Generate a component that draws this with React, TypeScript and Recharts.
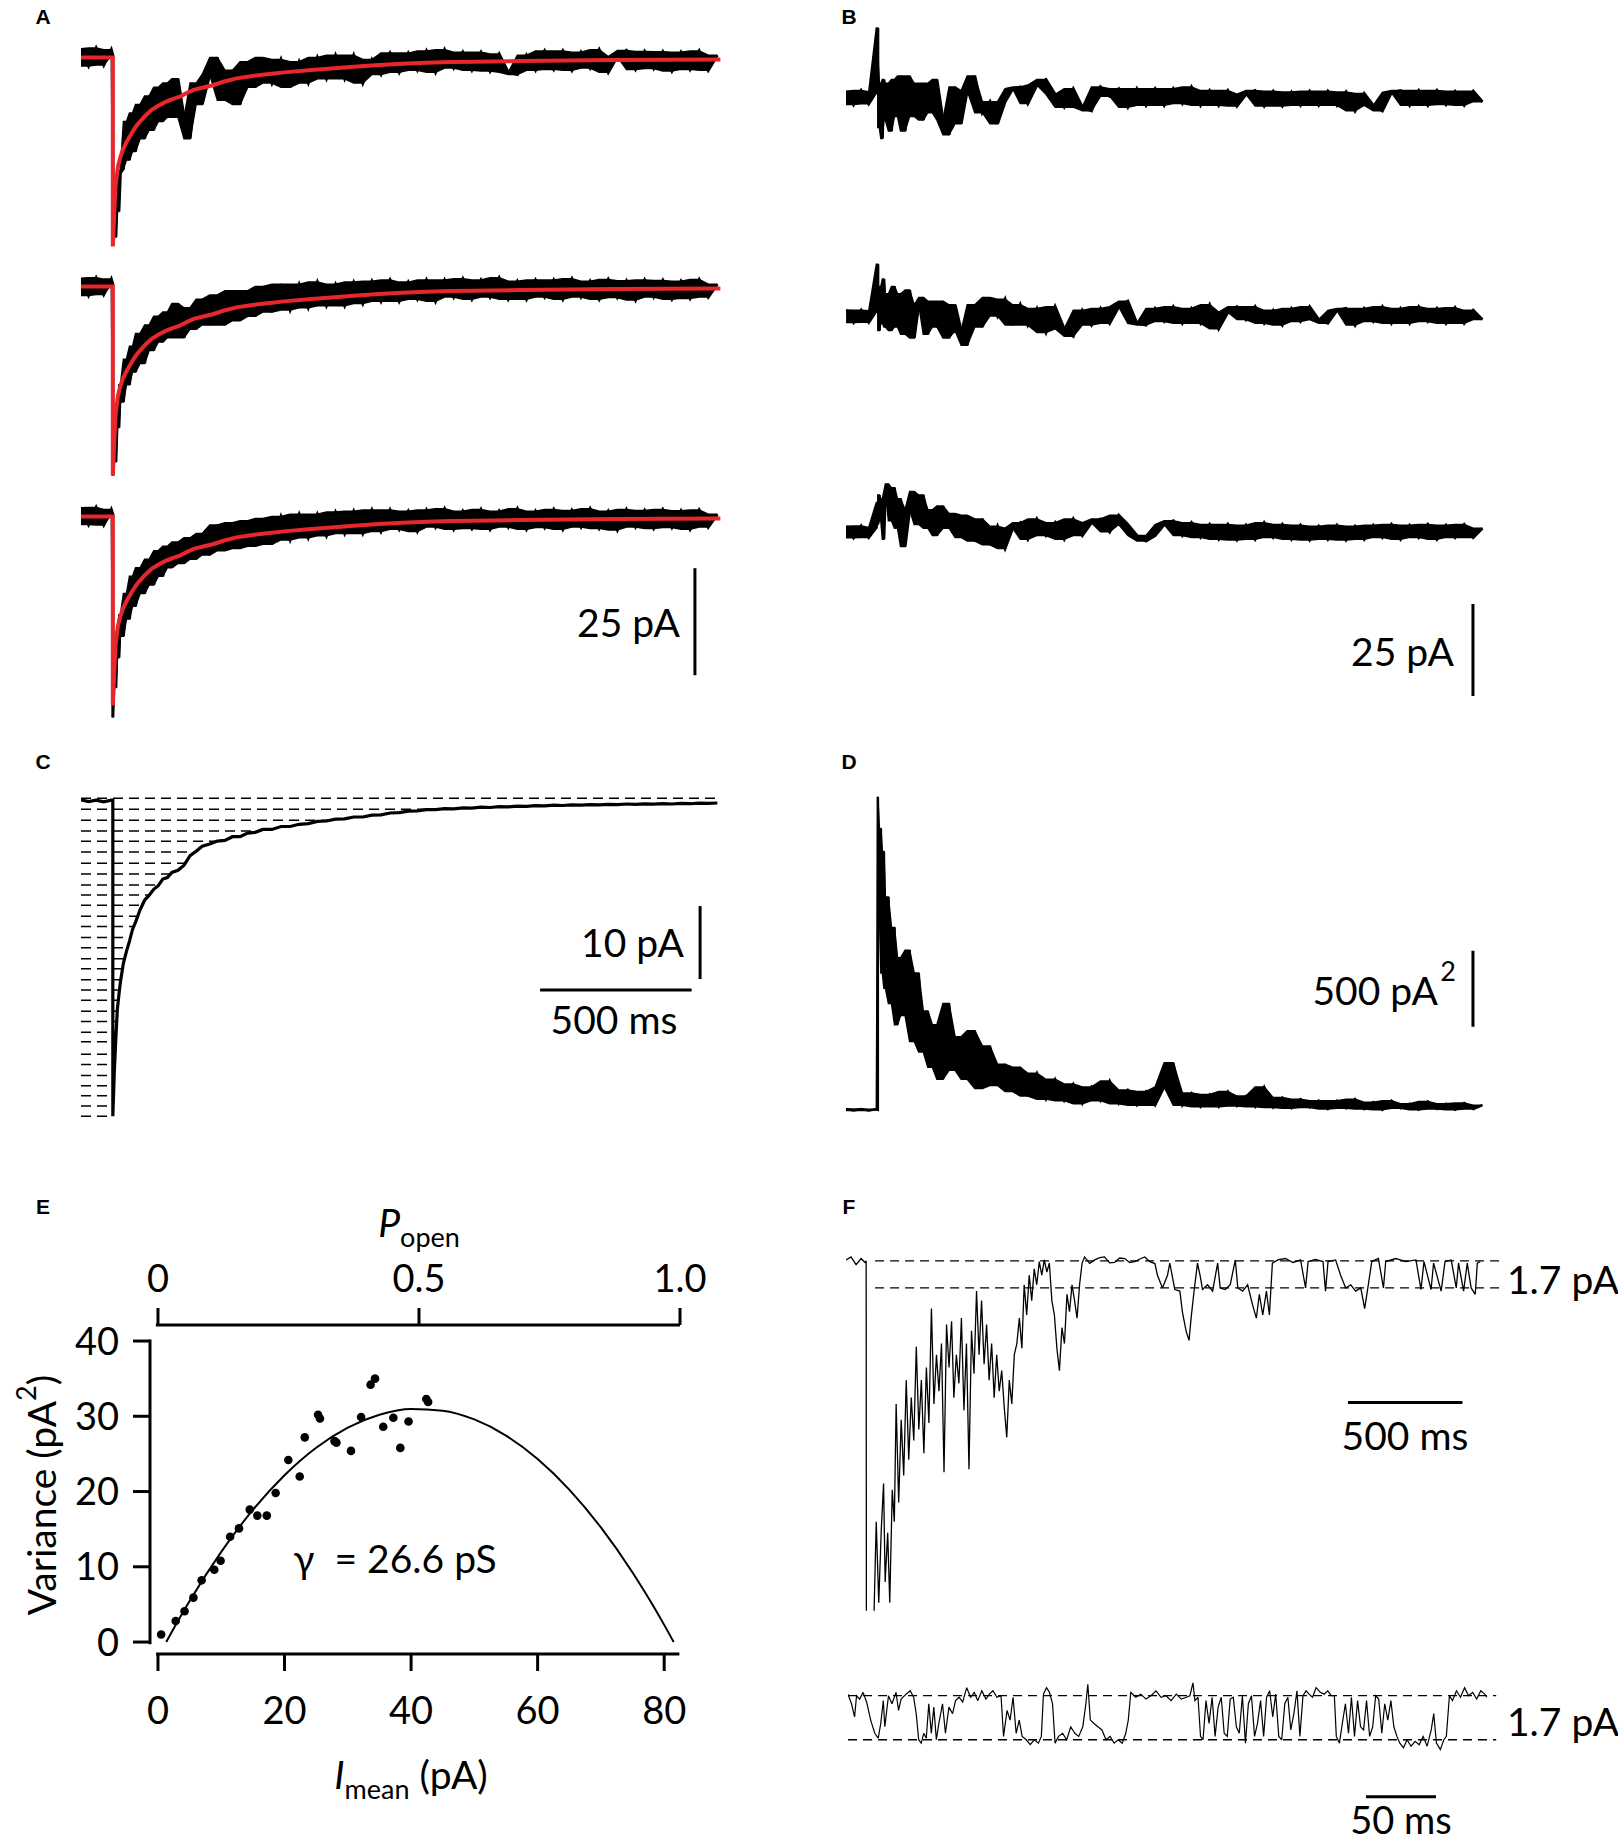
import React from "react";
import {
  ComposedChart,
  Line,
  Area,
  Scatter,
  XAxis,
  YAxis,
  ReferenceLine,
} from "recharts";

const FONT = "Lato, 'Open Sans', sans-serif";

// time base (ms) shared by the A–D sweeps; 105 appears twice for the step
const T = [
  0, 25, 50, 75, 100, 105, 105, 110, 115, 120,
  125, 130, 140, 150, 160, 170, 180, 195, 210, 225,
  240, 255, 270, 285, 300, 320, 340, 360, 380, 400,
  425, 450, 475, 500, 525, 550, 575, 600, 630, 660,
  690, 720, 750, 780, 810, 840, 870, 900, 930, 960,
  990, 1020, 1050, 1080, 1110, 1140, 1170, 1200, 1230, 1260,
  1290, 1320, 1350, 1380, 1410, 1440, 1470, 1500, 1530, 1560,
  1590, 1620, 1650, 1680, 1710, 1740, 1770, 1800, 1830, 1860,
  1890, 1920, 1950, 1980, 2010, 2040, 2070, 2100,
];

// A: three single sweeps (pA)
const A1 = [
  2, -2, 2.2, -1.8, 1.8, 0.5, -44, -38, -42, -31,
  -36, -27, -26, -15, -24, -13, -22, -11, -19, -9,
  -17, -7, -15, -6, -14, -5, -14, -19, -6, -11,
  -4, 0, -10, -3, -11, -1, -7, 0, -6, -0.5,
  -7, -1, -6, 0, -5, 0.5, -5, 0.5, -6, -0.5,
  -4, 1, -3.5, 1, -3, 1.5, -3.5, 1.8, -2.5, 1.2,
  -3, 1.2, -3.2, 0.8, -3.5, -4, 0.5, -3, 1.5, -2.8,
  1.5, -3, 1.2, -2.5, 1.8, -3.5, 0.2, 1.6, -2.8, 1.4,
  -2.6, 1.3, -3.2, 1.2, -2.8, 1.5, -3, 0.5,
];
const A2 = [
  1.9, -2.1, 2, -1.9, 1.7, 0.5, -44.2, -37, -41, -30,
  -33, -23, -27, -17, -23, -14, -20, -11, -18, -9,
  -15, -7, -13, -6, -12, -4, -12, -5, -10, -3,
  -9, -2, -9, -1, -8, -1, -7, 0, -6, 0.5,
  -5.5, 0.5, -5, 1, -4.5, 0.5, -4.5, 1, -4, 1.2,
  -3.5, 1.5, -3.5, 1, -3, 1.5, -3.5, 1.5, -2.5, 1.8,
  -3, 1.5, -2.5, 2, -3, 1.2, -3, 1.5, -2.5, 1.5,
  -3, 1.8, -2.5, 1.2, -3, 1.6, -2.6, 1.3, -3.2, 1.5,
  -2.5, 1.4, -3, 1.2, -2.8, 1.6, -2.5, 0.5,
];
const A3 = [
  2, -1.9, 2.1, -2, 1.6, 0.5, -47, -36, -40, -27,
  -33, -23, -28, -18, -24, -14, -21, -12, -18, -10,
  -16, -8, -14, -7, -12, -6, -11, -5, -10, -4,
  -9, -2, -8, -1.5, -7.5, -1, -7, -0.5, -6.5, 0,
  -5.5, 0.5, -5, 0.5, -4.5, 1, -4, 1.2, -4, 1.5,
  -3.5, 1.5, -3, 1.2, -3.5, 1.5, -2.5, 1.8, -3, 1.2,
  -2.8, 1.6, -3, 1.2, -2.5, 1.8, -3, 1.2, -2.6, 1.6,
  -3, 1.4, -2.5, 1.8, -2.8, 1.2, -3.2, 1.6, -2.5, 1.4,
  -2.8, 1.6, -2.6, 1.3, -3, 1.5, -2.5, 0.5,
];
// red fitted decay drawn over each sweep
const FIT_T = [
  0, 105, 105, 110, 114, 122, 130, 138, 150, 161,
  175, 185, 210, 232, 255, 279, 300, 326, 350, 372,
  400, 435, 470, 513, 550, 592, 630, 670, 750, 826,
  900, 983, 1060, 1139, 1220, 1296, 1450, 1609, 1760, 1922,
  2110,
];
const FIT_A = [
  0, 0, -44.2, -36, -30, -25.5, -23.3, -21.6, -19.8, -18.5,
  -16.8, -15.8, -13.8, -12.3, -11.3, -10.4, -9.8, -9.2, -8.3, -7.6,
  -7.1, -6.5, -5.7, -4.9, -4.5, -4.1, -3.8, -3.5, -3.0, -2.6,
  -2.2, -1.8, -1.5, -1.25, -1.1, -1.0, -0.85, -0.7, -0.62, -0.55,
  -0.47,
];

// B: sweep minus mean (pA)
const B1 = [
  1.8, -1.8, 2, -1.6, 1.7, 19, 10, -8, 4, -11,
  5, -6, 4, -9, 5, -5, 6, -9, 6, -5,
  4, -6, 4, -4, 5, -6, -10, 3, -7, 2,
  6, -4, -1, -7, -1, 2.5, 3, -1.5, 3.5, 5,
  1, -2.5, 2.5, -2.5, -3.5, 3, 0.5, 2.5, -2.5, 2.5,
  -2, 2.5, -2, 2.5, -1.5, 3, -2, 2, -2, 2,
  -2.2, 1, 2, -2.2, 1.8, -2.2, 1.6, -2, 1.8, -2,
  1.8, -2, 1.6, -3.5, 1.2, -2, -3.5, 1.5, 2, -2,
  2, -2, 2, -1.8, 1.8, -2, 1.8, -1,
];
const B2 = [
  1.6, -1.8, 1.5, -1.7, 1.4, 14, 5, -4, 8, -2,
  10, -3, 6, -4, 8, -3, 6, -5, 7, -6,
  3, 5, -5, 4, -3, 4, -6, 3, -4, -8,
  3, -3, 5, 0, 4.5, -2.5, 3, -2.5, 2, -4.5,
  2.5, -3.5, -5.5, 1.5, -2.5, 2, -2, 2.5, 4, -2,
  -2.5, 2, -1.5, 2.5, -2, 2, -2, 3, -3.5, 1,
  2.5, -1, 2.5, -2, 1.5, -2.5, 2, -1.5, 2.5, -1,
  -2, 1.5, 2, -2.5, 2, -1.5, 2.5, -2, 2, -2,
  2.5, -1.5, 2, -2, 2.2, -2, 1.5, -1,
];
const B3 = [
  1.5, -1.6, 1.6, -1.5, 1.2, 8, 2, 10, 3, 9,
  -2, 11, 13, 3, 12, 1, 9, -4, 6, 11,
  2, 10, 1, 6, -1, 7, 1, 5, -1.5, 4.5,
  -2.5, 3.5, -3.5, 1.5, -4.5, 1, 2.5, -2, 3.5, -1,
  2.5, -2, 3.5, -1, 2.5, 3.5, 0, 4.5, 2, -1,
  -2.5, -1, 2, 3, -1, 2.5, -1.5, 2, -2, 2,
  -2.2, 1.8, -2, 2.5, -1.5, 2, -2, 1.8, -2.2, 1.5,
  -2, 1.8, -2.2, 1.5, -2, 1.8, -1.5, 2, -2, 1.8,
  -1.5, 2, -2, 1.8, -1.5, 2, -1.5, 1,
];

// C: mean current (pA) and the amplitude bins
const C_MEAN = [
  0.15, -0.1, 0.12, -0.12, 0.1, 0.1, -43.2, -37, -32.5, -28.5,
  -26.6, -24.8, -22.2, -20.6, -19.2, -17.6, -16.6, -14.9, -13.6, -12.9,
  -12.1, -11.6, -10.7, -10.5, -9.8, -9.5, -8.8, -7.5, -6.9, -6.2,
  -5.9, -5.5, -5.4, -4.9, -4.9, -4.4, -4.3, -3.9, -3.9, -3.5,
  -3.5, -3.2, -3.1, -2.8, -2.75, -2.5, -2.45, -2.2, -2.2, -1.95,
  -1.9, -1.65, -1.6, -1.4, -1.35, -1.2, -1.2, -1.05, -1.08, -0.95,
  -0.98, -0.85, -0.9, -0.78, -0.8, -0.7, -0.74, -0.64, -0.68, -0.58,
  -0.62, -0.54, -0.58, -0.5, -0.54, -0.46, -0.5, -0.42, -0.47, -0.4,
  -0.44, -0.37, -0.42, -0.34, -0.38, -0.3, -0.34, -0.28,
];
const BIN_LEVELS = [
  0.37, -1.15, -2.63, -4.1, -5.53, -7.0, -8.53, -10.0, -11.5, -12.9,
  -14.3, -15.8, -17.2, -18.7, -20.1, -21.6, -23.0, -24.5, -25.9, -27.3,
  -28.8, -30.2, -31.7, -33.0, -34.7, -36.1, -37.6, -39.0, -40.4, -41.8,
  -43.2,
];
const BIN_ENDS = [
  2110, 1180, 820, 588, 446, 377, 346, 296, 257, 225,
  202, 187, 174, 163, 154, 144, 137, 131, 127, 123,
  119.6, 117.8, 116, 114.4, 112.6, 111, 109.5, 108.4, 107.3, 106.1,
  105,
];

// D: ensemble variance (pA^2)
const D_VAR = [
  5, -5, 5, -5, 3, 0, 2060, 1300, 1850, 900,
  1700, 800, 1400, 700, 1200, 560, 1000, 620, 1050, 450,
  900, 380, 650, 280, 560, 200, 700, 260, 480, 200,
  520, 140, 420, 160, 300, 120, 280, 90, 240, 70,
  200, 60, 170, 40, 150, 60, 190, 40, 130, 30,
  120, 30, 150, 310, 30, 110, 20, 100, 20, 120,
  25, 90, 20, 150, 15, 80, 10, 70, 15, 60,
  5, 60, 10, 70, 5, 50, 0, 60, 10, 40,
  0, 55, 5, 40, 0, 45, 5, 30,
];

// E: variance vs mean current
const E_IMEAN = [
  0.5, 2.8, 4.2, 5.6, 6.9, 8.9, 9.9, 11.4, 12.8, 14.5,
  15.7, 17.2, 18.6, 20.6, 22.4, 23.2, 25.3, 25.6, 27.9, 28.2,
  30.5, 32.1, 33.6, 34.3, 35.6, 37.2, 38.3, 39.6, 42.4, 42.7,
];
const E_VAR = [
  1.0, 2.8, 4.1, 5.9, 8.2, 9.6, 10.8, 14.0, 15.1, 17.6,
  16.8, 16.8, 19.8, 24.2, 22.0, 27.2, 30.2, 29.7, 26.7, 26.5,
  25.4, 29.9, 34.2, 35.0, 28.6, 29.8, 25.8, 29.3, 32.3, 31.9,
];
const E_FIT_I = [1.3, 3, 5, 10, 15, 20, 25, 30, 35, 40, 45, 50, 55, 60, 65, 70, 75, 78, 80, 81.5];
const E_FIT_V = [0, 2.57, 5.46, 11.99, 17.56, 22.17, 25.82, 28.5, 30.21, 30.97, 30.75, 29.58, 27.44, 24.33, 20.26, 15.23, 9.24, 5.18, 2.28, 0];
const I_AT_POPEN_1 = 82.5; // pA
const E_TICKS_I = [0, 20, 40, 60, 80];
const E_TICKS_VAR = [0, 10, 20, 30, 40];
const E_TICKS_POPEN = [0, 0.5, 1.0];

// F: patch with few channels, [ms, pA]
const F_LONG: [number, number][] = [
  [0, 0.06], [22, 0.25], [44, -0.23], [66, 0.15], [83, -0.1], [88, 0], [89, -23], [121, -23],
  [132, -16.4], [143, -21.5], [154, -16.9], [164, -14.0], [171, -20.2], [182, -17.1], [191, -21.5],
  [202, -14.4], [211, -16.4], [219, -9.0], [230, -15.2], [241, -10.0], [252, -13.5], [263, -7.5],
  [274, -12.5], [285, -8.6], [296, -11.3], [307, -5.4], [318, -10.6], [329, -7.5], [340, -12.1],
  [351, -6.7], [362, -10.2], [373, -3.0], [384, -9.0], [395, -5.9], [406, -8.2], [417, -5.2],
  [428, -13.3], [439, -4.0], [450, -6.7], [461, -3.8], [471, -8.6], [482, -5.9], [493, -7.7],
  [504, -3.6], [515, -9.4], [526, -5.2], [537, -13.1], [548, -4.4], [559, -7.1], [570, -1.9],
  [581, -5.9], [592, -2.5], [603, -6.5], [614, -4.0], [625, -7.5], [636, -5.2], [647, -8.6],
  [658, -5.9], [669, -8.2], [680, -6.9], [691, -9.2], [702, -11.1], [713, -7.5], [724, -9.0],
  [735, -5.9], [746, -5.2], [757, -3.6], [768, -5.5], [778, -1.5], [789, -3.4], [800, -0.9],
  [811, -2.5], [822, -0.5], [833, -1.5], [844, -0.04], [855, -0.9], [866, 0.06], [877, -0.7],
  [888, -0.14], [899, -2.5], [910, -3.4], [921, -5.5], [932, -6.9], [943, -4.2], [954, -5.2],
  [965, -2.1], [976, -3.2], [987, -1.5], [998, -2.5], [1009, -3.6], [1020, -1.5], [1031, -0.14],
  [1042, 0.25], [1064, -0.15], [1086, 0.06], [1108, 0.2], [1129, 0.25], [1151, -0.12], [1173, -0.1],
  [1195, 0.18], [1217, 0.15], [1239, -0.1], [1261, -0.04], [1283, 0.12], [1305, 0.25], [1327, -0.05],
  [1349, -0.17], [1360, -0.9], [1382, -1.7], [1404, -0.9], [1414, -0.14], [1436, -1.8], [1458, -1.9],
  [1469, -3.2], [1485, -4.4], [1498, -5.0], [1507, -3.6], [1520, -1.9], [1535, -0.14], [1546, -0.9],
  [1557, -1.8], [1579, -1.5], [1601, -1.9], [1623, -0.14], [1634, -1.7], [1656, -1.8], [1678, -1.5],
  [1700, 0.06], [1711, -1.7], [1732, -1.9], [1754, -1.5], [1776, -2.8], [1792, -3.6], [1805, -2.1],
  [1820, -3.4], [1836, -1.9], [1849, -3.4], [1862, -0.14], [1886, 0.06], [1919, 0.15], [1952, -0.1],
  [1985, 0.06], [2007, -1.7], [2018, -0.04], [2050, 0.1], [2083, -0.04], [2094, -1.9], [2105, -0.04],
  [2138, 0.06], [2160, -0.9], [2182, -1.7], [2204, -1.5], [2226, -1.9], [2248, -1.7], [2265, -3.0],
  [2281, -1.5], [2296, -0.04], [2325, 0.15], [2347, -1.7], [2357, -0.04], [2401, 0.15], [2445, -0.04],
  [2489, 0.06], [2511, -1.8], [2524, -0.04], [2555, -1.8], [2566, -0.14], [2599, -1.9], [2616, -0.04],
  [2643, 0.06], [2665, -1.7], [2675, -0.14], [2697, -1.9], [2713, -0.14], [2730, -1.7], [2748, -2.1],
  [2757, -0.14], [2770, -0.04],
];
const F_ZOOM: [number, number][] = [
  [0, 0.06], [2.5, -0.31], [4.7, -0.82], [6.1, 0], [8.3, -0.13], [10.8, 0.13], [13.3, -0.25],
  [16.2, -0.94], [19.1, -1.45], [21.6, -1.64], [23.4, -1.07], [25.2, -0.19], [26.3, -1.2], [28.9, 0],
  [31.4, -0.31], [34.3, 0.13], [36.1, -0.57], [37.9, -0.13], [41.5, 0.06], [44.4, 0.19], [46.9, -0.06],
  [48.7, -0.69], [50.5, -1.7], [52.3, -1.83], [54.1, -1.45], [55.9, -1.64], [57.7, -0.31], [59.5, -1.45],
  [61.3, -0.44], [63.1, -1.7], [64.9, -1.07], [67.5, -0.31], [69.6, -1.45], [72.1, -0.44], [74.7, -0.69],
  [76.8, -0.19], [79.4, -0.06], [81.9, -0.25], [84.8, 0.31], [87.6, -0.06], [90.2, 0.13], [92.7, -0.19],
  [95.6, 0.19], [98.5, -0.13], [101, 0.06], [103.5, 0.19], [106.4, -0.06], [109.3, 0], [111.1, -1.57],
  [113.6, -0.57], [115.8, -0.94], [117.9, -0.06], [120.1, -1.45], [122.3, -0.94], [124.4, -1.57],
  [127.3, -1.7], [130.2, -1.89], [133.1, -1.7], [136, -1.83], [138.1, -1.57], [139.6, 0.06], [141.8, 0.31],
  [143.9, 0.13], [146.1, -0.31], [147.9, -1.83], [150.4, -1.57], [153.3, -1.45], [156.2, -1.7], [159.1, -1.2],
  [162, -1.45], [164.8, -1.57], [167.7, -1.2], [169.9, -0.31], [171.3, 0.44], [173.1, -0.94], [175.7, -1.07],
  [178.5, -1.2], [181.4, -1.32], [184.3, -1.7], [187.2, -1.57], [190.1, -1.83], [193, -1.7], [195.9, -1.83],
  [198.4, -1.45], [200.2, -0.94], [202, 0.13], [205.6, -0.06], [209.2, 0.06], [212.8, -0.13], [216.4, 0],
  [220, 0.19], [223.6, -0.06], [227.2, 0], [230.8, -0.19], [234.5, 0.06], [238.1, -0.13], [241.7, -0.06],
  [244.2, 0], [246.4, 0.5], [247.8, -0.19], [250, -0.06], [251.8, -1.57], [253.6, -1.7], [255.7, -0.19],
  [257.9, -1.07], [260.1, -0.06], [262.2, -1.57], [264.4, -0.44], [266.6, -0.06], [268.7, -1.45],
  [270.9, -1.57], [273, -0.13], [275.2, -0.06], [277.4, -1.2], [279.5, -1.45], [281.7, 0], [283.9, -1.83],
  [286, -0.31], [288.2, 0], [290.4, -1.57], [292.5, -1.07], [294.7, -0.19], [296.9, -1.57], [299, -0.06],
  [301.2, 0.19], [303.4, -0.82], [305.5, 0.06], [307.7, -1.57], [309.8, -1.7], [312, -0.31], [314.2, -0.06],
  [316.3, -1.32], [318.5, -0.69], [320.7, 0.19], [322.8, -1.57], [325, 0], [327.2, 0.19], [329.3, 0.06],
  [331.8, -0.06], [334.4, 0.31], [337.3, 0.13], [340.1, 0.06], [342.7, 0.19], [345.2, 0], [347.4, 0],
  [348.8, -1.57], [351, -1.83], [353.1, -1.07], [355.3, -0.31], [357.5, -1.45], [359.6, -0.06], [361.8, -1.57],
  [364, -0.19], [366.1, -1.2], [368.3, -1.32], [370.4, -0.19], [372.6, -1.57], [374.8, -1.2], [376.9, 0],
  [379.1, -0.13], [381.3, -1.45], [383.4, -0.31], [385.6, -0.94], [387.8, -0.19], [389.9, -1.2], [392.1, -1.57],
  [394.2, -1.83], [396.8, -2.01], [399.3, -1.7], [402.2, -1.95], [405.1, -1.76], [408, -1.89], [410.8, -1.57],
  [413.7, -1.95], [416.6, -1.32], [418.4, -0.69], [420.3, -1.83], [423.1, -2.08], [425.6, -1.7], [427.4, -1.57],
  [429.6, 0], [431.8, -0.19], [434.6, 0.19], [437.5, -0.06], [440.4, 0.31], [443.3, 0], [446.2, 0.13],
  [449.1, -0.13], [452, 0.19], [454.8, 0.06], [456.3, -0.06],
];
const UNITARY = [0, -1.7];

const rows = (xs: number[], ys: number[]) => xs.map((t, i) => ({ t, v: ys[i] }));
const fromPairs = (ps: [number, number][]) => ps.map(([t, v]) => ({ t, v }));
// envelope of neighbouring samples, so a fast-noise sweep reads as a solid band
const envelope = (xs: number[], ys: number[]) =>
  xs.map((t, i) => {
    const a = ys[i];
    const b = ys[Math.min(i + 1, ys.length - 1)];
    return { t, r: [Math.min(a, b), Math.max(a, b)] };
  });

function Trace({ left, top, width, height, x, y, children }: any) {
  return (
    <div style={{ position: "absolute", left, top }}>
      <ComposedChart width={width} height={height} margin={{ top: 0, right: 0, bottom: 0, left: 0 }}>
        <XAxis type="number" dataKey="t" domain={x} hide allowDataOverflow />
        <YAxis type="number" domain={y} hide allowDataOverflow />
        {children}
      </ComposedChart>
    </div>
  );
}

const trace = (data: any[], stroke = "#000", w = 3.5) => (
  <Line
    data={data}
    dataKey="v"
    stroke={stroke}
    strokeWidth={w}
    strokeLinejoin="miter"
    strokeMiterlimit={2.5}
    dot={false}
    activeDot={false}
    isAnimationActive={false}
  />
);

const noisy = (xs: number[], ys: number[], w: number) => [
  <Area
    key="band"
    data={envelope(xs, ys)}
    dataKey="r"
    type="linear"
    stroke="#000"
    strokeWidth={1.5}
    fill="#000"
    fillOpacity={1}
    dot={false}
    activeDot={false}
    isAnimationActive={false}
  />,
  <Line
    key="line"
    data={rows(xs, ys)}
    dataKey="v"
    stroke="#000"
    strokeWidth={w}
    strokeLinejoin="miter"
    strokeMiterlimit={3}
    dot={false}
    activeDot={false}
    isAnimationActive={false}
  />,
];

const bar = (x1: number, y1: number, x2: number, y2: number) => (
  <ReferenceLine
    segment={[{ x: x1, y: y1 }, { x: x2, y: y2 }]}
    stroke="#000"
    strokeWidth={3}
    ifOverflow="visible"
  />
);

function Txt({ x, y, align = "center", size = 39, children, style }: any) {
  const dx = align === "center" ? "-50%" : align === "right" ? "-100%" : "0";
  return (
    <div
      style={{
        position: "absolute",
        left: x,
        top: y,
        transform: `translate(${dx}, -50%)`,
        fontFamily: FONT,
        fontSize: size,
        lineHeight: 1,
        whiteSpace: "pre",
        color: "#000",
        ...style,
      }}
    >
      {children}
    </div>
  );
}

const Letter = ({ x, y, children }: any) => (
  <Txt x={x} y={y} size={21} style={{ fontFamily: "'Liberation Sans', Arial, sans-serif", fontWeight: 700 }}>
    {children}
  </Txt>
);

const X_AD = [0, 2112];
const fitRows = rows(FIT_T, FIT_A);

function PanelE() {
  const pts = E_IMEAN.map((x, i) => ({ x, p: x / I_AT_POPEN_1, v: E_VAR[i] }));
  const fit = E_FIT_I.map((x, i) => ({ x, v: E_FIT_V[i] }));
  const tickStyle = { fill: "#000", fontSize: 38, fontFamily: FONT };
  const tickLine = { stroke: "#000", strokeWidth: 3 };
  return (
    <div style={{ position: "absolute", left: 0, top: 1180 }}>
      <ComposedChart width={720} height={560} margin={{ top: 115, right: 40, bottom: 56, left: 90 }}>
        <XAxis
          xAxisId="b"
          type="number"
          dataKey="x"
          domain={[-1.26, 82.5]}
          allowDataOverflow
          ticks={E_TICKS_I}
          interval={0}
          height={30}
          axisLine={false}
          tickLine={tickLine}
          tickSize={17}
          tickMargin={26}
          tick={tickStyle}
        />
        <XAxis
          xAxisId="p"
          orientation="top"
          type="number"
          dataKey="p"
          domain={[-1.26 / I_AT_POPEN_1, 1]}
          allowDataOverflow
          ticks={E_TICKS_POPEN}
          interval={0}
          height={30}
          axisLine={false}
          tickLine={tickLine}
          tickSize={17}
          tickMargin={16}
          tick={tickStyle}
          tickFormatter={(v: number) => (v === 0 ? "0" : v.toFixed(1))}
        />
        <YAxis
          type="number"
          domain={[-1.59, 42.13]}
          allowDataOverflow
          ticks={E_TICKS_VAR}
          interval={0}
          width={60}
          axisLine={false}
          tickLine={tickLine}
          tickSize={17}
          tickMargin={14}
          tick={tickStyle}
        />
        <ReferenceLine xAxisId="b" segment={[{ x: -1.26, y: -0.3 }, { x: -1.26, y: 40.2 }]} stroke="#000" strokeWidth={3} ifOverflow="visible" />
        <ReferenceLine xAxisId="b" segment={[{ x: -0.3, y: -1.59 }, { x: 82.4, y: -1.59 }]} stroke="#000" strokeWidth={3} ifOverflow="visible" />
        <ReferenceLine xAxisId="p" segment={[{ x: -0.004, y: 42.13 }, { x: 1.0, y: 42.13 }]} stroke="#000" strokeWidth={3} ifOverflow="visible" />
        {/* same points on the P_open scale, kept invisible so the top axis is bound to data */}
        <Scatter xAxisId="p" data={pts} dataKey="v" isAnimationActive={false} shape={() => <g />} />
        <Line
          xAxisId="b"
          data={fit}
          dataKey="v"
          type="monotone"
          stroke="#000"
          strokeWidth={2}
          dot={false}
          activeDot={false}
          isAnimationActive={false}
        />
        <Scatter
          xAxisId="b"
          data={pts}
          dataKey="v"
          isAnimationActive={false}
          shape={(p: any) => <circle cx={p.cx} cy={p.cy} r={4.3} fill="#000" />}
        />
      </ComposedChart>
    </div>
  );
}

export default function App() {
  return (
    <div
      style={{
        position: "absolute",
        left: 0,
        top: 0,
        width: 1618,
        height: 1845,
        background: "#fff",
        overflow: "hidden",
      }}
    >
      {/* A */}
      <Letter x={43} y={16}>A</Letter>
      <Trace left={81} top={35.6} width={640} height={226.8} x={X_AD} y={[-48, 5]}>
        {noisy(T, A1, 3)}
        {trace(fitRows, "#e8262b", 4)}
      </Trace>
      <Trace left={81} top={264.6} width={640} height={226.8} x={X_AD} y={[-48, 5]}>
        {noisy(T, A2, 3)}
        {trace(fitRows, "#e8262b", 4)}
      </Trace>
      <Trace left={81} top={494.6} width={640} height={235.4} x={X_AD} y={[-50, 5]}>
        {noisy(T, A3, 3)}
        {trace(fitRows, "#e8262b", 4)}
        {bar(2026, -12.1, 2026, -37.1)}
      </Trace>
      <Txt x={680} y={622} align="right">25 pA</Txt>

      {/* B */}
      <Letter x={849} y={16}>B</Letter>
      <Trace left={846} top={16.5} width={640} height={132.5} x={X_AD} y={[-14, 22]}>
        {noisy(T, B1, 3)}
      </Trace>
      <Trace left={846} top={257.1} width={640} height={95.7} x={X_AD} y={[-10, 16]}>
        {noisy(T, B2, 3)}
      </Trace>
      <Trace left={846} top={473.1} width={640} height={231.8} x={X_AD} y={[-47, 16]}>
        {noisy(T, B3, 3)}
        {bar(2069, -19.6, 2069, -44.6)}
      </Trace>
      <Txt x={1454} y={651} align="right">25 pA</Txt>

      {/* C */}
      <Letter x={43} y={761}>C</Letter>
      <Trace left={81} top={790.05} width={640} height={335.8} x={X_AD} y={[-44.5, 1.5]}>
        {BIN_LEVELS.map((lv, i) => (
          <ReferenceLine
            key={i}
            segment={[{ x: 0, y: lv }, { x: BIN_ENDS[i], y: lv }]}
            stroke="#000"
            strokeWidth={1.5}
            strokeDasharray="10 6"
            ifOverflow="visible"
          />
        ))}
        {trace(rows(T, C_MEAN), "#000", 3.2)}
        {bar(2043, -14.4, 2043, -24.4)}
        {bar(1515, -25.9, 2015, -25.9)}
      </Trace>
      <Txt x={684} y={942} align="right">10 pA</Txt>
      <Txt x={614} y={1019}>500 ms</Txt>

      {/* D */}
      <Letter x={849} y={761}>D</Letter>
      <Trace left={846} top={783.2} width={640} height={335.9} x={X_AD} y={[-60, 2150]}>
        {noisy(T, D_VAR, 2.5)}
        {bar(2069, 546, 2069, 1046)}
      </Trace>
      <Txt x={1438} y={990} align="right">500 pA</Txt>
      <Txt x={1448} y={970} size={27}>2</Txt>

      {/* E */}
      <Letter x={43} y={1206}>E</Letter>
      <PanelE />
      <Txt x={419} y={1222}>
        <i>P</i>
        <span style={{ fontSize: 27, position: "relative", top: 10 }}>open</span>
      </Txt>
      <Txt x={411} y={1774}>
        <i>I</i>
        <span style={{ fontSize: 27, position: "relative", top: 10 }}>mean</span>
        {" (pA)"}
      </Txt>
      <Txt x={41} y={1495} style={{ transform: "translate(-50%, -50%) rotate(-90deg)" }}>
        {"Variance (pA"}
        <span style={{ fontSize: 27, position: "relative", top: -20 }}>2</span>
        {")"}
      </Txt>
      <Txt x={395} y={1558}>{"γ  = 26.6 pS"}</Txt>

      {/* F */}
      <Letter x={849} y={1206}>F</Letter>
      <Trace left={846} top={1245.1} width={659.5} height={365.7} x={[0, 2880]} y={[-22, 1]}>
        {UNITARY.map((lv, i) => (
          <ReferenceLine
            key={i}
            segment={[{ x: 127, y: lv }, { x: 2865, y: lv }]}
            stroke="#000"
            strokeWidth={1.3}
            strokeDasharray="9 6"
            ifOverflow="visible"
          />
        ))}
        {trace(fromPairs(F_LONG), "#000", 1.3)}
        {bar(2192, -8.9, 2692, -8.9)}
      </Trace>
      <Txt x={1507} y={1279} align="left">1.7 pA</Txt>
      <Txt x={1405} y={1435}>500 ms</Txt>

      <Trace left={848} top={1675.3} width={652.4} height={132.1} x={[0, 466]} y={[-4.3, 0.8]}>
        {UNITARY.map((lv, i) => (
          <ReferenceLine
            key={i}
            segment={[{ x: 0, y: lv }, { x: 463, y: lv }]}
            stroke="#000"
            strokeWidth={1.3}
            strokeDasharray="9 6"
            ifOverflow="visible"
          />
        ))}
        {trace(fromPairs(F_ZOOM), "#000", 1.2)}
        {bar(370, -3.9, 420, -3.9)}
      </Trace>
      <Txt x={1507} y={1721} align="left">1.7 pA</Txt>
      <Txt x={1401} y={1819} size={38}>50 ms</Txt>
    </div>
  );
}
